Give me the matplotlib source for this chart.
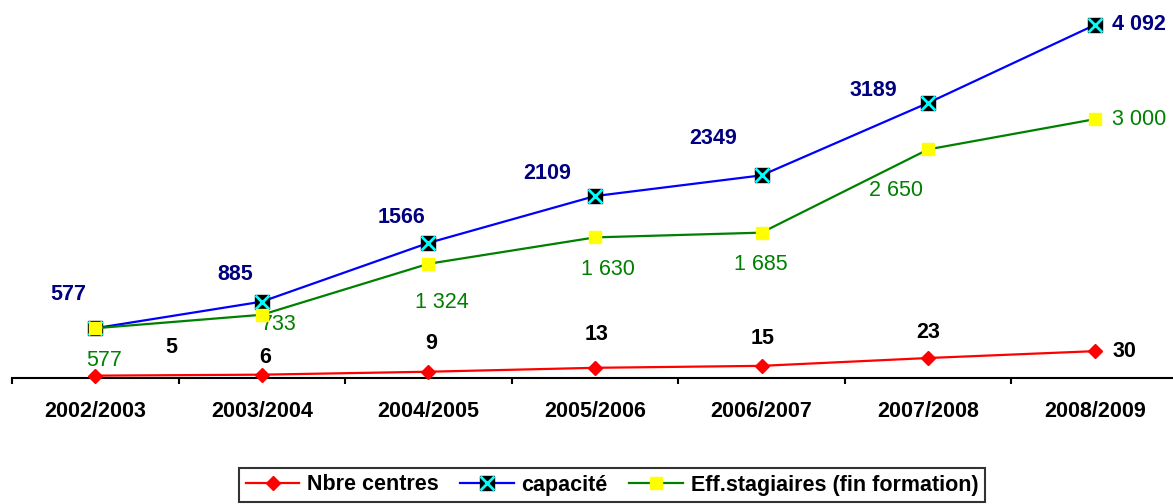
import numpy as np
import matplotlib.pyplot as plt
from matplotlib.legend_handler import HandlerTuple

plt.rcParams['font.family'] = ['Liberation Sans', 'DejaVu Sans']

# data
annees = ['2002/2003', '2003/2004', '2004/2005', '2005/2006',
          '2006/2007', '2007/2008', '2008/2009']
nbre_centres = [5, 6, 9, 13, 15, 23, 30]
capacite = [577, 885, 1566, 2109, 2349, 3189, 4092]
eff_stagiaires = [577, 733, 1324, 1630, 1685, 2650, 3000]

# texts shown next to the points (as written on the chart)
capacite_txt = ['577', '885', '1566', '2109', '2349', '3189', '4 092']
eff_txt = ['577', '733', '1 324', '1 630', '1 685', '2 650', '3 000']
centres_txt = [str(v) for v in nbre_centres]

# label offsets in pixels (dx, dy)
cap_off = [(-27, 34), (-27, 27), (-27, 25), (-48, 23), (-48, 37), (-55, 12), (44, 0)]
eff_off = [(9, -32), (17, -10), (13, -39), (13, -32), (-1, -32), (-32, -41), (44, 0)]
nb_off = [(76, 28), (3, 17), (3, 28), (2, 33), (1, 27), (0, 26), (30, 0)]

W, H = 1173, 504
fig = plt.figure(figsize=(W / 100, H / 100), dpi=100)
ax = fig.add_axes([12 / W, (H - 378) / H, 1166 / W, 358 / H])
ax2 = ax.twinx()

x = np.arange(len(annees))
fs = 15.5

l_red, = ax2.plot(x, nbre_centres, color='#FF0000', lw=1.6, marker='D', ms=7,
                  mfc='#FF0000', mec='#FF0000', clip_on=False, zorder=3)
l_blue, = ax.plot(x, capacite, color='#0000FF', lw=1.6, marker='s', ms=10.5,
                  mfc='black', mec='black', clip_on=False, zorder=3)
l_x, = ax.plot(x, capacite, ls='none', marker='x', ms=9.5, mew=2,
               color='#00FFFF', clip_on=False, zorder=4)
l_green, = ax.plot(x, eff_stagiaires, color='#008000', lw=1.6, marker='s', ms=8.4,
                   mfc='#FFFF00', mec='#FFFF00', clip_on=False, zorder=5)

for i in range(len(x)):
    ax.annotate(capacite_txt[i], (x[i], capacite[i]), xytext=cap_off[i],
                textcoords='offset pixels', ha='center', va='center',
                fontsize=fs, fontweight='bold', color='#000080')
    ax.annotate(eff_txt[i], (x[i], eff_stagiaires[i]), xytext=eff_off[i],
                textcoords='offset pixels', ha='center', va='center',
                fontsize=fs, color='#008000')
    ax2.annotate(centres_txt[i], (x[i], nbre_centres[i]), xytext=nb_off[i],
                 textcoords='offset pixels', ha='center', va='center',
                 fontsize=fs, fontweight='bold', color='black')

ax.set_xlim(-0.5, len(annees) - 0.5)
ax.set_ylim(0, 358 / (353 / 4092))
ax2.set_ylim(2.6, 2.6 + 358 / 0.98)

for a in (ax, ax2):
    for s in ['top', 'left', 'right']:
        a.spines[s].set_visible(False)
    a.patch.set_visible(False)
ax2.spines['bottom'].set_visible(False)
ax2.set_yticks([])
ax.set_yticks([])
ax.spines['bottom'].set_linewidth(1.5)

ax.set_xticks(np.arange(-0.5, len(annees), 1.0))
ax.set_xticklabels([])
ax.tick_params(axis='x', which='major', length=4.5, width=1.5, direction='out')
ax.set_xticks(x, minor=True)
ax.set_xticklabels(annees, minor=True, fontsize=fs, fontweight='bold')
ax.tick_params(axis='x', which='minor', length=0, pad=16.5)

leg = fig.legend([l_red, (l_blue, l_x), l_green],
                 ['Nbre centres', 'capacité', 'Eff.stagiaires (fin formation)'],
                 handler_map={tuple: HandlerTuple(ndivide=1)},
                 loc='center', bbox_to_anchor=(612 / W, 1 - 485 / H), ncol=3,
                 prop={'weight': 'bold', 'size': fs}, frameon=True, fancybox=False,
                 edgecolor='black', handlelength=2.5, columnspacing=1.0,
                 handletextpad=0.35, borderpad=0.3, borderaxespad=0)
leg.get_frame().set_linewidth(1.5)

fig.savefig('out.png', dpi=100)
